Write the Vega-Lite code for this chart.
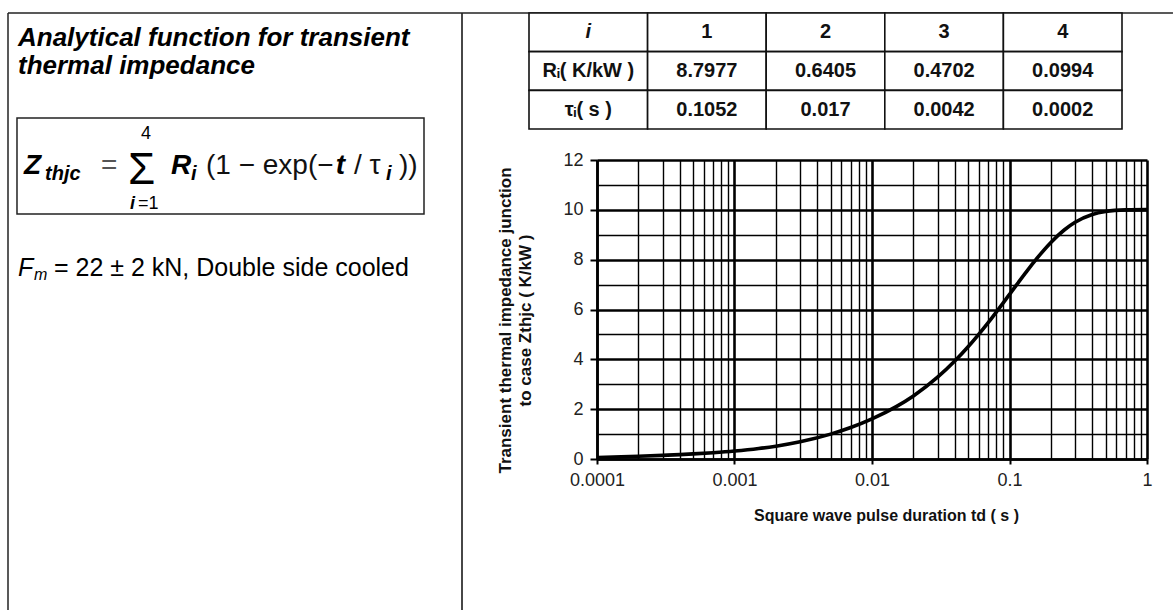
{
  "$schema": "https://vega.github.io/schema/vega-lite/v6.json",
  "background": "white",
  "padding": {"left": 7, "top": 12, "right": 0, "bottom": 0},
  "bounds": "flush",
  "spacing": 135,
  "config": {
    "view": {"stroke": null},
    "font": "Liberation Sans",
    "text": {"font": "Liberation Sans", "color": "#000"},
    "axis": {"labelFont": "Liberation Sans", "titleFont": "Liberation Sans"}
  },
  "datasets": {
    "notes": [
      {"part": "heading", "text": "Analytical function for transient\nthermal impedance"},
      {"part": "Z", "text": "Z"},
      {"part": "Zsub", "text": "thjc"},
      {"part": "eq", "text": "="},
      {"part": "sigma", "text": "Σ"},
      {"part": "upper", "text": "4"},
      {"part": "lowerI", "text": "i"},
      {"part": "lowerRest", "text": "=1"},
      {"part": "R", "text": "R"},
      {"part": "Rsub", "text": "i"},
      {"part": "open", "text": "(1 − exp(−"},
      {"part": "t", "text": "t"},
      {"part": "slashTau", "text": "/ τ"},
      {"part": "tauSub", "text": "i"},
      {"part": "close", "text": "))"},
      {"part": "F", "text": "F"},
      {"part": "Fsub", "text": "m"},
      {"part": "Frest", "text": "= 22 ± 2 kN, Double side cooled"}
    ],
    "params": [
      {"quantity": "i", "term": "name", "text": "i"},
      {"quantity": "i", "term": "1", "text": "1"},
      {"quantity": "i", "term": "2", "text": "2"},
      {"quantity": "i", "term": "3", "text": "3"},
      {"quantity": "i", "term": "4", "text": "4"},
      {"quantity": "R", "term": "name", "text": "Rᵢ( K/kW )"},
      {"quantity": "R", "term": "1", "text": "8.7977"},
      {"quantity": "R", "term": "2", "text": "0.6405"},
      {"quantity": "R", "term": "3", "text": "0.4702"},
      {"quantity": "R", "term": "4", "text": "0.0994"},
      {"quantity": "tau", "term": "name", "text": "τᵢ( s )"},
      {"quantity": "tau", "term": "1", "text": "0.1052"},
      {"quantity": "tau", "term": "2", "text": "0.017"},
      {"quantity": "tau", "term": "3", "text": "0.0042"},
      {"quantity": "tau", "term": "4", "text": "0.0002"}
    ],
    "zthjc": [
      {"t": 0.0001, "z": 0.0623},
      {"t": 0.00015, "z": 0.0871},
      {"t": 0.0002, "z": 0.1089},
      {"t": 0.0003, "z": 0.1459},
      {"t": 0.0004, "z": 0.1769},
      {"t": 0.0005, "z": 0.2043},
      {"t": 0.0007, "z": 0.2528},
      {"t": 0.001, "z": 0.3182},
      {"t": 0.0015, "z": 0.4192},
      {"t": 0.002, "z": 0.5143},
      {"t": 0.003, "z": 0.6904},
      {"t": 0.005, "z": 0.9982},
      {"t": 0.007, "z": 1.2633},
      {"t": 0.01, "z": 1.6087},
      {"t": 0.015, "z": 2.1009},
      {"t": 0.02, "z": 2.5318},
      {"t": 0.03, "z": 3.2833},
      {"t": 0.04, "z": 3.9318},
      {"t": 0.05, "z": 4.5044},
      {"t": 0.07, "z": 5.4747},
      {"t": 0.1, "z": 6.6055},
      {"t": 0.13, "z": 7.4507},
      {"t": 0.15, "z": 7.8936},
      {"t": 0.2, "z": 8.6934},
      {"t": 0.25, "z": 9.1907},
      {"t": 0.3, "z": 9.4998},
      {"t": 0.4, "z": 9.8114},
      {"t": 0.5, "z": 9.9319},
      {"t": 0.7, "z": 9.9965},
      {"t": 1, "z": 10.0071}
    ]
  },
  "hconcat": [
    {
      "width": 454,
      "height": 597,
      "data": {"name": "notes"},
      "layer": [
        {
          "data": {"values": [{"frame": "page"}]},
          "mark": {"type": "rule", "color": "#222", "strokeWidth": 1.5},
          "encoding": {
            "x": {"datum": 0, "type": "quantitative", "scale": {"domain": [0, 1]}, "axis": null},
            "y": {"datum": 0, "type": "quantitative", "scale": {"domain": [0, 1], "reverse": true}, "axis": null},
            "y2": {"datum": 1}
          }
        },
        {
          "data": {"values": [{"frame": "page"}]},
          "mark": {"type": "rule", "color": "#333", "strokeWidth": 1.8},
          "encoding": {
            "x": {"datum": 1, "type": "quantitative", "scale": {"domain": [0, 1]}, "axis": null},
            "y": {"datum": 0, "type": "quantitative", "scale": {"domain": [0, 1], "reverse": true}, "axis": null},
            "y2": {"datum": 1}
          }
        },
        {
          "data": {"values": [{"frame": "page"}]},
          "mark": {"type": "rule", "color": "#222", "strokeWidth": 1.5},
          "encoding": {
            "x": {"datum": 0, "type": "quantitative", "scale": {"domain": [0, 1]}, "axis": null},
            "x2": {"datum": 2.566},
            "y": {"datum": 0, "type": "quantitative", "scale": {"domain": [0, 1], "reverse": true}, "axis": null}
          }
        },
        {
          "data": {"values": [{"frame": "formula"}]},
          "mark": {"type": "rect", "fill": null, "stroke": "#222", "strokeWidth": 1.5},
          "encoding": {
            "x": {"datum": 0.0198, "type": "quantitative", "scale": {"domain": [0, 1]}, "axis": null},
            "x2": {"datum": 0.9163},
            "y": {"datum": 0.1759, "type": "quantitative", "scale": {"domain": [0, 1], "reverse": true}, "axis": null},
            "y2": {"datum": 0.3367}
          }
        },
        {
          "transform": [{"filter": "datum.part === 'heading'"}],
          "mark": {"type": "text", "align": "left", "baseline": "alphabetic", "fontSize": 26, "fontWeight": "bold", "fontStyle": "italic", "lineBreak": "\n", "lineHeight": 27.5},
          "encoding": {
            "x": {"datum": 0.022, "type": "quantitative", "scale": {"domain": [0, 1]}, "axis": null},
            "y": {"datum": 0.0561, "type": "quantitative", "scale": {"domain": [0, 1], "reverse": true}, "axis": null},
            "text": {"field": "text"}
          }
        },
        {
          "transform": [{"filter": "datum.part === 'Z'"}],
          "mark": {"type": "text", "align": "left", "baseline": "alphabetic", "fontSize": 28, "fontWeight": "bold", "fontStyle": "italic"},
          "encoding": {
            "x": {"datum": 0.0352, "type": "quantitative", "scale": {"domain": [0, 1]}, "axis": null},
            "y": {"datum": 0.2697, "type": "quantitative", "scale": {"domain": [0, 1], "reverse": true}, "axis": null},
            "text": {"field": "text"}
          }
        },
        {
          "transform": [{"filter": "datum.part === 'Zsub'"}],
          "mark": {"type": "text", "align": "left", "baseline": "alphabetic", "fontSize": 20, "fontWeight": "bold", "fontStyle": "italic"},
          "encoding": {
            "x": {"datum": 0.0815, "type": "quantitative", "scale": {"domain": [0, 1]}, "axis": null},
            "y": {"datum": 0.2797, "type": "quantitative", "scale": {"domain": [0, 1], "reverse": true}, "axis": null},
            "text": {"field": "text"}
          }
        },
        {
          "transform": [{"filter": "datum.part === 'eq'"}],
          "mark": {"type": "text", "align": "left", "baseline": "alphabetic", "fontSize": 28, "color": "#555"},
          "encoding": {
            "x": {"datum": 0.2048, "type": "quantitative", "scale": {"domain": [0, 1]}, "axis": null},
            "y": {"datum": 0.2697, "type": "quantitative", "scale": {"domain": [0, 1], "reverse": true}, "axis": null},
            "text": {"field": "text"}
          }
        },
        {
          "transform": [{"filter": "datum.part === 'sigma'"}],
          "mark": {"type": "text", "align": "left", "baseline": "alphabetic", "fontSize": 44},
          "encoding": {
            "x": {"datum": 0.2643, "type": "quantitative", "scale": {"domain": [0, 1]}, "axis": null},
            "y": {"datum": 0.2864, "type": "quantitative", "scale": {"domain": [0, 1], "reverse": true}, "axis": null},
            "text": {"field": "text"}
          }
        },
        {
          "transform": [{"filter": "datum.part === 'upper'"}],
          "mark": {"type": "text", "align": "center", "baseline": "alphabetic", "fontSize": 18},
          "encoding": {
            "x": {"datum": 0.304, "type": "quantitative", "scale": {"domain": [0, 1]}, "axis": null},
            "y": {"datum": 0.211, "type": "quantitative", "scale": {"domain": [0, 1], "reverse": true}, "axis": null},
            "text": {"field": "text"}
          }
        },
        {
          "transform": [{"filter": "datum.part === 'lowerI'"}],
          "mark": {"type": "text", "align": "right", "baseline": "alphabetic", "fontSize": 18, "fontWeight": "bold", "fontStyle": "italic"},
          "encoding": {
            "x": {"datum": 0.2797, "type": "quantitative", "scale": {"domain": [0, 1]}, "axis": null},
            "y": {"datum": 0.3283, "type": "quantitative", "scale": {"domain": [0, 1], "reverse": true}, "axis": null},
            "text": {"field": "text"}
          }
        },
        {
          "transform": [{"filter": "datum.part === 'lowerRest'"}],
          "mark": {"type": "text", "align": "left", "baseline": "alphabetic", "fontSize": 18},
          "encoding": {
            "x": {"datum": 0.2863, "type": "quantitative", "scale": {"domain": [0, 1]}, "axis": null},
            "y": {"datum": 0.3283, "type": "quantitative", "scale": {"domain": [0, 1], "reverse": true}, "axis": null},
            "text": {"field": "text"}
          }
        },
        {
          "transform": [{"filter": "datum.part === 'R'"}],
          "mark": {"type": "text", "align": "left", "baseline": "alphabetic", "fontSize": 28, "fontWeight": "bold", "fontStyle": "italic"},
          "encoding": {
            "x": {"datum": 0.359, "type": "quantitative", "scale": {"domain": [0, 1]}, "axis": null},
            "y": {"datum": 0.2697, "type": "quantitative", "scale": {"domain": [0, 1], "reverse": true}, "axis": null},
            "text": {"field": "text"}
          }
        },
        {
          "transform": [{"filter": "datum.part === 'Rsub'"}],
          "mark": {"type": "text", "align": "left", "baseline": "alphabetic", "fontSize": 20, "fontWeight": "bold", "fontStyle": "italic"},
          "encoding": {
            "x": {"datum": 0.4031, "type": "quantitative", "scale": {"domain": [0, 1]}, "axis": null},
            "y": {"datum": 0.2797, "type": "quantitative", "scale": {"domain": [0, 1], "reverse": true}, "axis": null},
            "text": {"field": "text"}
          }
        },
        {
          "transform": [{"filter": "datum.part === 'open'"}],
          "mark": {"type": "text", "align": "left", "baseline": "alphabetic", "fontSize": 28, "color": "#111"},
          "encoding": {
            "x": {"datum": 0.4361, "type": "quantitative", "scale": {"domain": [0, 1]}, "axis": null},
            "y": {"datum": 0.2697, "type": "quantitative", "scale": {"domain": [0, 1], "reverse": true}, "axis": null},
            "text": {"field": "text"}
          }
        },
        {
          "transform": [{"filter": "datum.part === 't'"}],
          "mark": {"type": "text", "align": "left", "baseline": "alphabetic", "fontSize": 28, "fontWeight": "bold", "fontStyle": "italic"},
          "encoding": {
            "x": {"datum": 0.722, "type": "quantitative", "scale": {"domain": [0, 1]}, "axis": null},
            "y": {"datum": 0.2697, "type": "quantitative", "scale": {"domain": [0, 1], "reverse": true}, "axis": null},
            "text": {"field": "text"}
          }
        },
        {
          "transform": [{"filter": "datum.part === 'slashTau'"}],
          "mark": {"type": "text", "align": "left", "baseline": "alphabetic", "fontSize": 28, "color": "#111"},
          "encoding": {
            "x": {"datum": 0.7621, "type": "quantitative", "scale": {"domain": [0, 1]}, "axis": null},
            "y": {"datum": 0.2697, "type": "quantitative", "scale": {"domain": [0, 1], "reverse": true}, "axis": null},
            "text": {"field": "text"}
          }
        },
        {
          "transform": [{"filter": "datum.part === 'tauSub'"}],
          "mark": {"type": "text", "align": "left", "baseline": "alphabetic", "fontSize": 20, "fontWeight": "bold", "fontStyle": "italic"},
          "encoding": {
            "x": {"datum": 0.8326, "type": "quantitative", "scale": {"domain": [0, 1]}, "axis": null},
            "y": {"datum": 0.2797, "type": "quantitative", "scale": {"domain": [0, 1], "reverse": true}, "axis": null},
            "text": {"field": "text"}
          }
        },
        {
          "transform": [{"filter": "datum.part === 'close'"}],
          "mark": {"type": "text", "align": "left", "baseline": "alphabetic", "fontSize": 28, "color": "#111"},
          "encoding": {
            "x": {"datum": 0.861, "type": "quantitative", "scale": {"domain": [0, 1]}, "axis": null},
            "y": {"datum": 0.2697, "type": "quantitative", "scale": {"domain": [0, 1], "reverse": true}, "axis": null},
            "text": {"field": "text"}
          }
        },
        {
          "transform": [{"filter": "datum.part === 'F'"}],
          "mark": {"type": "text", "align": "left", "baseline": "alphabetic", "fontSize": 25, "fontStyle": "italic"},
          "encoding": {
            "x": {"datum": 0.022, "type": "quantitative", "scale": {"domain": [0, 1]}, "axis": null},
            "y": {"datum": 0.4405, "type": "quantitative", "scale": {"domain": [0, 1], "reverse": true}, "axis": null},
            "text": {"field": "text"}
          }
        },
        {
          "transform": [{"filter": "datum.part === 'Fsub'"}],
          "mark": {"type": "text", "align": "left", "baseline": "alphabetic", "fontSize": 16, "fontStyle": "italic"},
          "encoding": {
            "x": {"datum": 0.0573, "type": "quantitative", "scale": {"domain": [0, 1]}, "axis": null},
            "y": {"datum": 0.4472, "type": "quantitative", "scale": {"domain": [0, 1], "reverse": true}, "axis": null},
            "text": {"field": "text"}
          }
        },
        {
          "transform": [{"filter": "datum.part === 'Frest'"}],
          "mark": {"type": "text", "align": "left", "baseline": "alphabetic", "fontSize": 25},
          "encoding": {
            "x": {"datum": 0.1013, "type": "quantitative", "scale": {"domain": [0, 1]}, "axis": null},
            "y": {"datum": 0.4405, "type": "quantitative", "scale": {"domain": [0, 1], "reverse": true}, "axis": null},
            "text": {"field": "text"}
          }
        }
      ]
    },
    {
      "bounds": "flush",
      "spacing": 31,
      "vconcat": [
        {
          "width": 550,
          "height": 116,
          "data": {"name": "params"},
          "encoding": {
            "x": {"field": "term", "type": "ordinal", "sort": ["name", "1", "2", "3", "4"], "axis": null, "scale": {"range": [-68, 525], "paddingInner": 0, "paddingOuter": 0}},
            "y": {"field": "quantity", "type": "ordinal", "sort": ["i", "R", "tau"], "axis": null, "scale": {"paddingInner": 0, "paddingOuter": 0}}
          },
          "layer": [
            {"mark": {"type": "rect", "fill": "white", "stroke": "#111", "strokeWidth": 1.6}},
            {
              "transform": [{"filter": "datum.term !== 'name' || datum.quantity !== 'i'"}],
              "mark": {"type": "text", "align": "center", "baseline": "middle", "fontSize": 20, "fontWeight": "bold", "color": "#111"},
              "encoding": {"text": {"field": "text"}}
            },
            {
              "transform": [{"filter": "datum.term === 'name' && datum.quantity === 'i'"}],
              "mark": {"type": "text", "align": "center", "baseline": "middle", "fontSize": 20, "fontWeight": "bold", "fontStyle": "italic", "color": "#111"},
              "encoding": {"text": {"field": "text"}}
            }
          ]
        },
        {
          "width": 550,
          "height": 299,
          "data": {"name": "zthjc"},
          "mark": {"type": "line", "interpolate": "monotone", "color": "#000", "strokeWidth": 3.6},
          "encoding": {
            "x": {
              "field": "t",
              "type": "quantitative",
              "scale": {"type": "log", "domain": [0.0001, 1], "nice": false},
              "axis": {
                "values": [0.0001, 0.0002, 0.0003, 0.0004, 0.0005, 0.0006, 0.0007, 0.0008, 0.0009, 0.001, 0.002, 0.003, 0.004, 0.005, 0.006, 0.007, 0.008, 0.009, 0.01, 0.02, 0.03, 0.04, 0.05, 0.06, 0.07, 0.08, 0.09, 0.1, 0.2, 0.3, 0.4, 0.5, 0.6, 0.7, 0.8, 0.9, 1],
                "labelExpr": "abs(log(datum.value) / LN10 - round(log(datum.value) / LN10)) < 0.001 ? format(datum.value, '~g') : ''",
                "labelFontSize": 18,
                "labelColor": "#222",
                "labelPadding": 7,
                "labelOverlap": false,
                "labelFlush": false,
                "tickColor": "#000",
                "tickWidth": 2,
                "tickSize": 5,
                "tickOpacity": {"condition": {"test": "abs(log(datum.value) / LN10 - round(log(datum.value) / LN10)) < 0.001", "value": 1}, "value": 0},
                "grid": true,
                "gridColor": "#000",
                "gridWidth": {"condition": {"test": "abs(log(datum.value) / LN10 - round(log(datum.value) / LN10)) < 0.001", "value": 2.6}, "value": 1.4},
                "domainColor": "#000",
                "domainWidth": 2.5,
                "title": "Square wave pulse duration td ( s )",
                "titleFontSize": 16,
                "titleFontWeight": "bold",
                "titleColor": "#111",
                "titlePadding": 18,
                "titleX": 289
              }
            },
            "y": {
              "field": "z",
              "type": "quantitative",
              "scale": {"domain": [0, 12], "nice": false},
              "axis": {
                "values": [0, 1, 2, 3, 4, 5, 6, 7, 8, 9, 10, 11, 12],
                "labelExpr": "datum.value % 2 === 0 ? datum.label : ''",
                "labelFontSize": 18,
                "labelColor": "#222",
                "labelPadding": 7,
                "labelOverlap": false,
                "tickColor": "#000",
                "tickWidth": 2,
                "tickSize": 7,
                "tickOpacity": {"condition": {"test": "datum.value % 2 === 0", "value": 1}, "value": 0},
                "grid": true,
                "gridColor": "#000",
                "gridWidth": {"condition": {"test": "datum.value % 2 === 0", "value": 2.4}, "value": 1.4},
                "domainColor": "#000",
                "domainWidth": 2.5,
                "title": ["Transient thermal impedance junction", "to case Zthjc ( K/kW )"],
                "titleFontSize": 17,
                "titleFontWeight": "bold",
                "titleColor": "#111",
                "titleLineHeight": 20,
                "titlePadding": 28,
                "titleY": 160
              }
            }
          }
        }
      ]
    }
  ]
}
